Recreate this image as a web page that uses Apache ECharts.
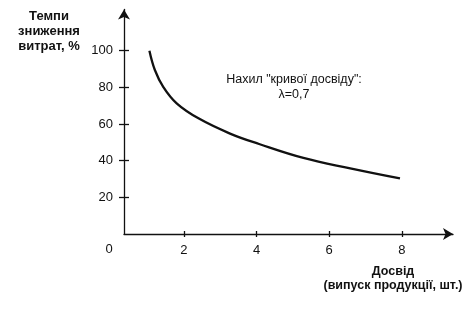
<!DOCTYPE html>
<html>
<head>
<meta charset="utf-8">
<script src="https://cdn.jsdelivr.net/npm/echarts@6/dist/echarts.min.js"></script>
<style>
html,body{margin:0;padding:0;background:#fff;}
#c{width:473px;height:311px;}
</style>
</head>
<body>
<div id="c"></div>
<script>
// Experience (output volume)
const experience = [1.05, 1.2, 1.43, 1.8, 2.4, 3.27, 4.07, 5.29, 6.58, 7.95];
// Cost reduction rate, %
const costRate = [100, 89.5, 80.3, 71.3, 63.1, 54.8, 49.1, 41.5, 35.8, 30.3];
const xTicks = [2, 4, 6, 8];
const yTicks = [20, 40, 60, 80, 100];
const yTitle = 'Темпи\nзниження\nвитрат, %';
const xTitle = 'Досвід\n(випуск продукції, шт.)';
const note = 'Нахил "кривої досвіду":\nλ=0,7';

const FONT = '"Liberation Sans", Arial, sans-serif';
const INK = '#111';

const chart = echarts.init(document.getElementById('c'), null, {renderer: 'canvas'});
const xRange = {min: 0.35, max: 9.41};
const yRange = {min: 0, max: 122.5};

chart.setOption({
  backgroundColor: '#fff',
  animation: false,
  grid: {left: 124, right: 20, top: 9.5, bottom: 77, containLabel: false},
  xAxis: [{
    type: 'value', min: xRange.min, max: xRange.max, position: 'bottom',
    splitLine: {show: false},
    axisLine: {onZero: false, lineStyle: {color: INK, width: 1.3}, symbol: ['none', 'arrow'], symbolSize: [9, 10]},
    axisTick: {show: true, inside: false, length: 3, customValues: xTicks, lineStyle: {color: INK, width: 1.3}},
    axisLabel: {customValues: xTicks, margin: 10, color: INK, fontFamily: FONT, fontSize: 13}
  }, {
    type: 'value', min: xRange.min, max: xRange.max, position: 'bottom',
    splitLine: {show: false},
    axisLine: {show: false, onZero: false},
    axisTick: {show: true, inside: true, length: 3, customValues: xTicks, lineStyle: {color: INK, width: 1.3}},
    axisLabel: {show: false}
  }],
  yAxis: [{
    type: 'value', min: yRange.min, max: yRange.max, position: 'left',
    splitLine: {show: false},
    axisLine: {onZero: false, lineStyle: {color: INK, width: 1.3}, symbol: ['none', 'arrow'], symbolSize: [9, 10]},
    axisTick: {show: true, inside: false, length: 5, customValues: yTicks, lineStyle: {color: INK, width: 1.3}},
    axisLabel: {customValues: yTicks, margin: 11, color: INK, fontFamily: FONT, fontSize: 13}
  }, {
    type: 'value', min: yRange.min, max: yRange.max, position: 'left',
    splitLine: {show: false},
    axisLine: {show: false, onZero: false},
    axisTick: {show: true, inside: true, length: 5, customValues: yTicks, lineStyle: {color: INK, width: 1.3}},
    axisLabel: {show: false}
  }],
  series: [{
    type: 'line',
    xAxisIndex: 0, yAxisIndex: 0,
    data: experience.map((x, i) => [x, costRate[i]]),
    smooth: 0.4,
    showSymbol: false,
    lineStyle: {color: INK, width: 2.3}
  }],
  graphic: [
    {type: 'text', x: 49, y: 9, style: {text: yTitle, font: 'bold 13px ' + FONT, fill: INK, align: 'center', textAlign: 'center', lineHeight: 15}, z: 10},
    {type: 'text', x: 294, y: 72, style: {text: note, font: '12.5px ' + FONT, fill: INK, align: 'center', textAlign: 'center', lineHeight: 15}, z: 10},
    {type: 'text', x: 393, y: 265, style: {text: xTitle, font: 'bold 12.5px ' + FONT, fill: INK, align: 'center', textAlign: 'center', lineHeight: 14}, z: 10},
    {type: 'text', x: 109, y: 243, style: {text: '0', font: '13px ' + FONT, fill: INK, align: 'center', textAlign: 'center'}, z: 10}
  ]
});
</script>
</body>
</html>
